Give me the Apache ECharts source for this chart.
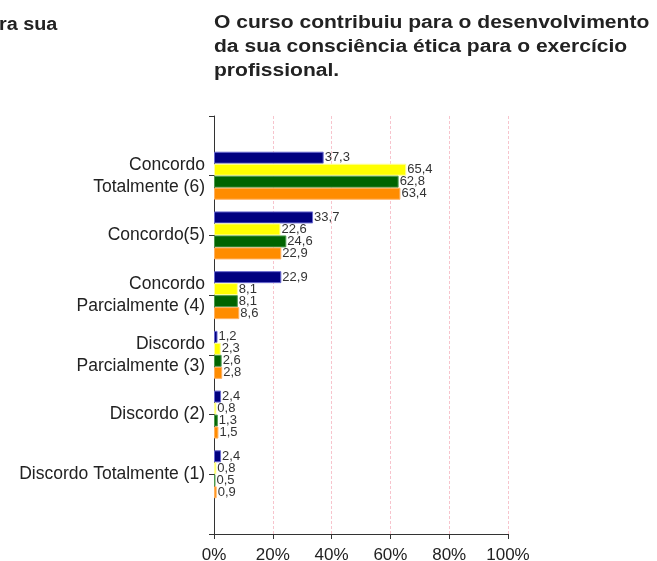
<!DOCTYPE html>
<html><head><meta charset="utf-8">
<script src="https://cdn.jsdelivr.net/npm/echarts@6/dist/echarts.min.js"></script>
<style>html,body{margin:0;padding:0;background:#fff}#c{width:657px;height:561px}</style>
</head><body><div id="c"></div>
<script>
const categories = ['Concordo\nTotalmente (6)', 'Concordo(5)', 'Concordo\nParcialmente (4)', 'Discordo\nParcialmente (3)', 'Discordo (2)', 'Discordo Totalmente (1)'];
const seriesBlue = [37.3, 33.7, 22.9, 1.2, 2.4, 2.4];
const seriesYellow = [65.4, 22.6, 8.1, 2.3, 0.8, 0.8];
const seriesGreen = [62.8, 24.6, 8.1, 2.6, 1.3, 0.5];
const seriesOrange = [63.4, 22.9, 8.6, 2.8, 1.5, 0.9];
const xTicks = [0, 20, 40, 60, 80, 100];
const titleText = 'O curso contribuiu para o desenvolvimento\nda sua consciência ética para o exercício\nprofissional.';
const sideText = 'ra sua';

const cats = [''].concat(categories, ['']);
const pad = v => ['-'].concat(v, ['-']);
const colors = ['#000080', '#FFFF00', '#006400', '#FF8C00'];
const borders = ['#6a6ad0', '#ffff99', '#4d9a4d', '#ffb060'];
const all = [seriesBlue, seriesYellow, seriesGreen, seriesOrange];
const fmt = p => p.value.toFixed(1).replace('.', ',');
const FF = 'Liberation Sans, Arial, sans-serif';

const chart = echarts.init(document.getElementById('c'));
chart.setOption({
  animation: false,
  graphic: [
    {type: 'text', x: 214, y: 11, scaleX: 1.17, style: {text: titleText, fontFamily: FF, fontWeight: 'bold', fontSize: 18, lineHeight: 24, fill: '#222'}},
    {type: 'text', x: -1, y: 16, scaleX: 1.1, style: {text: sideText, fontFamily: FF, fontWeight: 'bold', fontSize: 18, fill: '#222'}}
  ],
  grid: {left: 214, top: 116, right: 149, bottom: 27, containLabel: false, outerBoundsMode: 'none'},
  xAxis: {
    type: 'value', min: 0, max: 100, interval: 20,
    axisLine: {show: true, lineStyle: {color: '#333'}},
    axisTick: {show: true, length: 5, lineStyle: {color: '#333'}},
    axisLabel: {formatter: v => xTicks.includes(v) ? v + '%' : '', fontFamily: FF, fontSize: 17, color: '#222', margin: 13},
    splitLine: {show: true, lineStyle: {color: '#f7c4cd', type: [3, 2]}}
  },
  yAxis: {
    type: 'category', data: cats, inverse: true, boundaryGap: false,
    axisLine: {show: true, lineStyle: {color: '#333'}},
    axisTick: {show: true, length: 5, lineStyle: {color: '#333'}},
    axisLabel: {fontFamily: FF, fontSize: 17.5, lineHeight: 22, color: '#222', margin: 9, interval: 0},
    splitLine: {show: false}
  },
  series: all.map((d, i) => ({
    type: 'bar', name: 'S' + (i + 1), data: pad(d),
    barWidth: 12, barGap: '0%',
    itemStyle: {color: colors[i], borderColor: borders[i], borderWidth: 1},
    label: {show: true, position: 'right', distance: 1, formatter: fmt, fontFamily: FF, fontSize: 13, color: '#333'}
  }))
});
</script></body></html>
